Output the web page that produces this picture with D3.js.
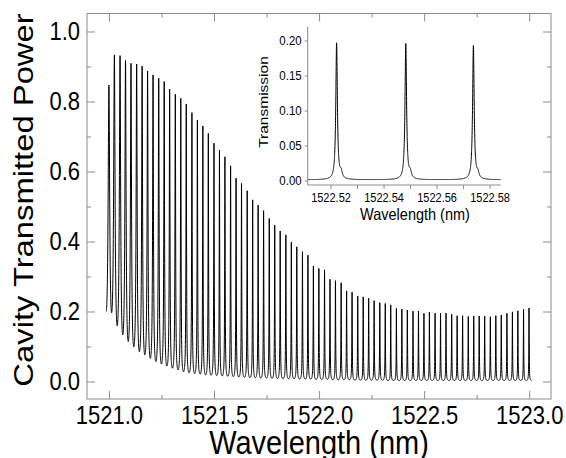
<!DOCTYPE html>
<html>
<head>
<meta charset="utf-8">
<script src="https://cdn.jsdelivr.net/npm/d3@7"></script>
<style>
  body { margin: 0; background: #fff; }
  svg { display: block; }
  text { font-family: "Liberation Sans", Arial, sans-serif; fill: #000; }
</style>
</head>
<body>
<svg id="chart" width="566" height="458"></svg>
<script>
// ---- main spectrum: resonance positions (nm), peak heights, trough levels ----
const peakWl = [
  1521.000, 1521.026, 1521.053, 1521.079, 1521.105, 1521.132, 1521.158, 1521.184, 1521.210, 1521.237,
  1521.263, 1521.289, 1521.316, 1521.342, 1521.368, 1521.395, 1521.421, 1521.447, 1521.473, 1521.500,
  1521.526, 1521.552, 1521.579, 1521.605, 1521.631, 1521.658, 1521.684, 1521.710, 1521.736, 1521.763,
  1521.789, 1521.815, 1521.842, 1521.868, 1521.894, 1521.921, 1521.947, 1521.973, 1521.999, 1522.026,
  1522.052, 1522.078, 1522.105, 1522.131, 1522.157, 1522.184, 1522.210, 1522.236, 1522.262, 1522.289,
  1522.315, 1522.341, 1522.368, 1522.394, 1522.420, 1522.447, 1522.473, 1522.499, 1522.525, 1522.552,
  1522.578, 1522.604, 1522.631, 1522.657, 1522.683, 1522.710, 1522.736, 1522.762, 1522.788, 1522.815,
  1522.841, 1522.867, 1522.894, 1522.920, 1522.946, 1522.973, 1522.999
];
const peakHeights = [
  0.847, 0.933, 0.931, 0.917, 0.909, 0.907, 0.901, 0.887, 0.876, 0.866,
  0.857, 0.835, 0.821, 0.809, 0.793, 0.768, 0.747, 0.730, 0.709, 0.681,
  0.661, 0.642, 0.616, 0.581, 0.566, 0.545, 0.519, 0.504, 0.488, 0.466,
  0.447, 0.430, 0.419, 0.398, 0.385, 0.371, 0.361, 0.330, 0.323, 0.319,
  0.292, 0.288, 0.282, 0.259, 0.255, 0.244, 0.242, 0.238, 0.231, 0.225,
  0.223, 0.219, 0.209, 0.207, 0.204, 0.201, 0.201, 0.195, 0.198, 0.195,
  0.195, 0.195, 0.192, 0.188, 0.188, 0.186, 0.187, 0.187, 0.187, 0.185,
  0.188, 0.190, 0.195, 0.199, 0.202, 0.206, 0.210
];
// trough before peak 0, then trough after each peak
const troughLevels = [
  0.200, 0.196, 0.159, 0.133, 0.114, 0.099, 0.085, 0.076, 0.066, 0.057,
  0.050, 0.044, 0.038, 0.033, 0.028, 0.025, 0.023, 0.021, 0.019, 0.018,
  0.017, 0.016, 0.015, 0.014, 0.013, 0.012, 0.011, 0.011, 0.010, 0.010,
  0.009, 0.009, 0.008, 0.008, 0.008, 0.007, 0.007, 0.007, 0.006, 0.006,
  0.006, 0.005, 0.005, 0.005, 0.005, 0.004, 0.004, 0.004, 0.004, 0.004,
  0.004, 0.003, 0.003, 0.003, 0.003, 0.003, 0.003, 0.003, 0.003, 0.003,
  0.003, 0.003, 0.003, 0.003, 0.003, 0.003, 0.003, 0.003, 0.003, 0.003,
  0.003, 0.003, 0.003, 0.003, 0.003, 0.003, 0.003, 0.003
];
const xMajor = [1521.0, 1521.5, 1522.0, 1522.5, 1523.0];
const xMinor = [1521.25, 1521.75, 1522.25, 1522.75];
const yMajor = [0.0, 0.2, 0.4, 0.6, 0.8, 1.0];
const yMinor = [0.1, 0.3, 0.5, 0.7, 0.9];

// ---- inset: three resonances around 1522.55 nm ----
const insetPeakWl = [1522.5223, 1522.5484, 1522.5739];
const insetPeakHeights = [0.195, 0.194, 0.191];
const insetShoulderHeights = [0.009, 0.009, 0.008];
const insetXTicks = [1522.52, 1522.53, 1522.54, 1522.55, 1522.56, 1522.57, 1522.58];
const insetXLabels = [1522.52, 1522.54, 1522.56, 1522.58];
const insetYTicks = [0.00, 0.05, 0.10, 0.15, 0.20];

const svg = d3.select("#chart");
const frameColor = "#8c8c8c";
const stretch = 1.15; // glyphs in the source are a bit taller than wide

// plot frame in pixels
const L = 87, R = 551, T = 13.5, B = 399;

const x = d3.scaleLinear().domain([1520.8957, 1523.1036]).range([L, R]);
const y = d3.scaleLinear().domain([-0.0500, 1.0514]).range([B, T]);

// build the comb trace: each resonance is an Airy-like line between troughs
const samples = 40;
const trace = [];
peakWl.forEach((c, i) => {
  const h = peakHeights[i];
  const leftC = i === 0 ? c - (peakWl[1] - peakWl[0]) : peakWl[i - 1];
  const rightC = i === peakWl.length - 1 ? c + (c - peakWl[i - 1]) : peakWl[i + 1];
  const fL = h / troughLevels[i] - 1;
  const fR = h / troughLevels[i + 1] - 1;
  for (let k = (i === 0 ? 0 : 1); k <= samples; k++) {
    const s = -0.5 + 0.5 * k / samples;
    const sn = Math.sin(Math.PI * s);
    trace.push([c + s * (c - leftC), h / (1 + fL * sn * sn)]);
  }
  for (let k = 1; k <= samples; k++) {
    const s = 0.5 * k / samples;
    const sn = Math.sin(Math.PI * s);
    trace.push([c + s * (rightC - c), h / (1 + fR * sn * sn)]);
  }
});

svg.append("path")
  .datum(trace)
  .attr("fill", "none")
  .attr("stroke", "#000")
  .attr("stroke-width", 1)
  .attr("d", d3.line().x(d => x(d[0])).y(d => y(d[1])));

// frame
svg.append("rect")
  .attr("x", L).attr("y", T)
  .attr("width", R - L).attr("height", B - T)
  .attr("fill", "none")
  .attr("stroke", frameColor);

// inward ticks on all four sides
function styleAxis(g) {
  g.select(".domain").remove();
  g.selectAll(".tick line").attr("stroke", frameColor);
  g.selectAll("text")
    .style("font-size", "22px")
    .attr("fill", "#000")
    .attr("transform", `scale(1,${stretch})`);
}

svg.append("g")
  .attr("transform", `translate(0,${B})`)
  .call(d3.axisBottom(x).tickValues(xMajor).tickSize(-8).tickPadding(6).tickFormat(d3.format(".1f")))
  .call(styleAxis);
svg.append("g")
  .attr("transform", `translate(0,${B})`)
  .call(d3.axisBottom(x).tickValues(xMinor).tickSize(-4).tickFormat(""))
  .call(styleAxis);
svg.append("g")
  .attr("transform", `translate(0,${T})`)
  .call(d3.axisTop(x).tickValues(xMajor).tickSize(-8).tickFormat(""))
  .call(styleAxis);
svg.append("g")
  .attr("transform", `translate(0,${T})`)
  .call(d3.axisTop(x).tickValues(xMinor).tickSize(-4).tickFormat(""))
  .call(styleAxis);

svg.append("g")
  .attr("transform", `translate(${L},0)`)
  .call(d3.axisLeft(y).tickValues(yMajor).tickSize(-8).tickPadding(7).tickFormat(d3.format(".1f")))
  .call(styleAxis);
svg.append("g")
  .attr("transform", `translate(${L},0)`)
  .call(d3.axisLeft(y).tickValues(yMinor).tickSize(-4).tickFormat(""))
  .call(styleAxis);
svg.append("g")
  .attr("transform", `translate(${R},0)`)
  .call(d3.axisRight(y).tickValues(yMajor).tickSize(-8).tickFormat(""))
  .call(styleAxis);
svg.append("g")
  .attr("transform", `translate(${R},0)`)
  .call(d3.axisRight(y).tickValues(yMinor).tickSize(-4).tickFormat(""))
  .call(styleAxis);

// axis titles
svg.append("text")
  .attr("transform", `translate(${(L + R) / 2},454) scale(1,${stretch})`)
  .attr("text-anchor", "middle")
  .style("font-size", "29px")
  .text("Wavelength (nm)");

svg.append("text")
  .attr("transform", `translate(33,200) scale(1,${stretch}) rotate(-90)`)
  .attr("text-anchor", "middle")
  .style("font-size", "28.5px")
  .text("Cavity Transmitted Power");

// ---- inset ----
const iL = 307.7, iR = 500.7, iT = 26.7, iB = 185;
const ix = d3.scaleLinear().domain([1522.5114, 1522.5842]).range([iL, iR]);
const iy = d3.scaleLinear().domain([-0.00643, 0.2197]).range([iB, iT]);

const gamma = 0.00035, shoulderOffset = 0.0017, shoulderGamma = 0.0005, base = 0.001;
const insetTrace = [];
const wlGrid = d3.range(1522.5114, 1522.5842, 0.00002);
wlGrid.forEach(w => {
  let v = base;
  insetPeakWl.forEach((c, k) => {
    const u = (w - c) / gamma;
    const us = (w - c - shoulderOffset) / shoulderGamma;
    v += insetPeakHeights[k] / (1 + u * u) + insetShoulderHeights[k] / (1 + us * us);
  });
  insetTrace.push([w, v]);
});

svg.append("path")
  .datum(insetTrace)
  .attr("fill", "none")
  .attr("stroke", "#000")
  .attr("stroke-width", 1)
  .attr("d", d3.line().x(d => ix(d[0])).y(d => iy(d[1])));

const insetX = svg.append("g")
  .attr("transform", `translate(0,${iB})`)
  .call(d3.axisBottom(ix).tickValues(insetXTicks).tickSize(4).tickPadding(3)
    .tickFormat(d => insetXLabels.some(v => Math.abs(v - d) < 1e-6) ? d3.format(".2f")(d) : ""));
insetX.select(".domain").attr("stroke", frameColor).attr("d", `M${iL},0H${iR}`);
insetX.selectAll(".tick line").attr("stroke", frameColor);
insetX.selectAll("text").style("font-size", "11px").attr("transform", `scale(1,${stretch})`);

const insetY = svg.append("g")
  .attr("transform", `translate(${iL},0)`)
  .call(d3.axisLeft(iy).tickValues(insetYTicks).tickSize(3).tickPadding(3).tickFormat(d3.format(".2f")));
insetY.select(".domain").attr("stroke", frameColor).attr("d", `M0,${iT}V${iB}`);
insetY.selectAll(".tick line").attr("stroke", frameColor);
insetY.selectAll("text").style("font-size", "11.5px").attr("transform", `scale(1,${stretch})`);

svg.append("text")
  .attr("transform", `translate(415,219.5) scale(1,${stretch})`)
  .attr("text-anchor", "middle")
  .style("font-size", "14.5px")
  .text("Wavelength (nm)");

svg.append("text")
  .attr("transform", `translate(268,102) scale(1,${stretch}) rotate(-90)`)
  .attr("text-anchor", "middle")
  .style("font-size", "13.5px")
  .text("Transmission");
</script>
</body>
</html>
